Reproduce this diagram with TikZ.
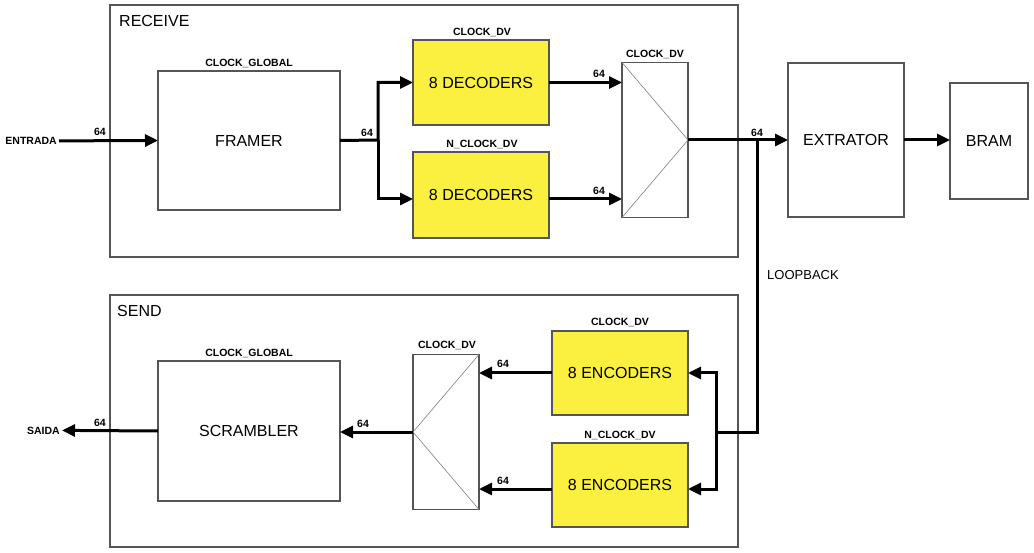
\documentclass[tikz,border=0pt]{standalone}
\usepackage{fontspec}
\setmainfont{Liberation Sans}
\usetikzlibrary{arrows.meta}
\definecolor{boxline}{RGB}{85,85,85}
\definecolor{blockyellow}{RGB}{251,240,64}
\tikzset{
  blk/.style={draw=boxline, line width=1.2pt, fill=white, inner sep=0pt, outer sep=0pt, font=\fontsize{16}{19}\selectfont},
  dec/.style={blk, fill=blockyellow},
  grp/.style={draw=boxline, line width=1.2pt, inner sep=0pt, outer sep=0pt},
  mux/.style={draw=boxline, line width=1.2pt, fill=white, inner sep=0pt, outer sep=0pt},
  diag/.style={draw=gray, line width=0.6pt},
  lbl/.style={font=\bfseries\fontsize{10.5}{12}\selectfont, inner sep=0pt},
  ttl/.style={font=\fontsize{16}{19}\selectfont, inner sep=0pt},
  wire/.style={line width=3pt},
  bus/.style={line width=3pt, -{Triangle[length=13pt,width=12pt]}},
}
\begin{document}
\begin{tikzpicture}[x=1pt,y=-1pt]
\useasboundingbox[fill=white] (0,0) rectangle (1034,553);
% groups
\node[grp, minimum width=628, minimum height=252] (receive) at (424,131) {};
\node[grp, minimum width=628, minimum height=252] (send) at (424,421) {};
\node[ttl, anchor=base west] (tr) at (119,27) {RECEIVE};
\node[ttl, anchor=base west] (ts) at (117,317) {SEND};
% receive blocks
\node[blk, minimum width=182, minimum height=139] (framer) at (249,140.5) {FRAMER};
\node[dec, minimum width=136, minimum height=85] (dec1) at (481,82.5) {8 DECODERS};
\node[dec, minimum width=136, minimum height=86] (dec2) at (481,195) {8 DECODERS};
\node[mux, minimum width=66, minimum height=155] (rxmux) at (655,140) {};
\draw[diag] (rxmux.north west) -- (rxmux.east) -- (rxmux.south west);
\node[blk, minimum width=116, minimum height=154] (extrator) at (846,140) {EXTRATOR};
\node[blk, minimum width=78, minimum height=116] (bram) at (989,141) {BRAM};
% send blocks
\node[blk, minimum width=182, minimum height=140] (scrambler) at (249,431) {SCRAMBLER};
\node[dec, minimum width=136, minimum height=84] (enc1) at (620,373) {8 ENCODERS};
\node[dec, minimum width=136, minimum height=84] (enc2) at (620,485) {8 ENCODERS};
\node[mux, minimum width=66, minimum height=155] (txmux) at (446,432) {};
\draw[diag] (txmux.north east) -- (txmux.west) -- (txmux.south east);
% io labels
\node[lbl, anchor=base east, inner sep=2pt] (entrada) at (59,144.5) {ENTRADA};
\node[lbl, anchor=base east, inner sep=2pt] (saida) at (62,434) {SAIDA};
% clock labels
\node[lbl, anchor=base] (c1) at (249,67) {CLOCK\_GLOBAL};
\node[lbl, anchor=base] (c2) at (482,36) {CLOCK\_DV};
\node[lbl, anchor=base] (c3) at (482,148) {N\_CLOCK\_DV};
\node[lbl, anchor=base] (c4) at (655,58) {CLOCK\_DV};
\node[lbl, anchor=base] (c5) at (249,357) {CLOCK\_GLOBAL};
\node[lbl, anchor=base] (c6) at (447,349) {CLOCK\_DV};
\node[lbl, anchor=base] (c7) at (620,326) {CLOCK\_DV};
\node[lbl, anchor=base] (c8) at (620,438) {N\_CLOCK\_DV};
% width labels
\node[lbl, anchor=base] (w1) at (100,136) {64};
\node[lbl, anchor=base] (w2) at (367,137) {64};
\node[lbl, anchor=base] (w3) at (599,78) {64};
\node[lbl, anchor=base] (w4) at (599,195) {64};
\node[lbl, anchor=base] (w5) at (757,137) {64};
\node[lbl, anchor=base] (w6) at (100,426) {64};
\node[lbl, anchor=base] (w7) at (363,427) {64};
\node[lbl, anchor=base] (w8) at (503,368) {64};
\node[lbl, anchor=base] (w9) at (503,484) {64};
\node[ttl, font=\fontsize{13}{15}\selectfont, anchor=base west] (loop) at (767,280) {LOOPBACK};
% coordinates
\coordinate (split1) at (378,140);
\coordinate (lb) at (757,140);
\coordinate (lb2) at (757,432);
\coordinate (split2) at (716,432);
% receive connectors
\draw[bus] (entrada.east) -- (framer.west);
\draw[bus] (framer.east) -- (split1) |- (dec1.west);
\draw[bus] (split1) |- ([yshift=-4pt]dec2.west);
\draw[bus] (dec1.east) -- (dec1.east -| rxmux.west);
\draw[bus] ([yshift=-4pt]dec2.east) -- ([yshift=-4pt]dec2.east -| rxmux.west);
\draw[bus] (rxmux.east) -- (extrator.west);
\draw[bus] (extrator.east) -- (extrator.east -| bram.west);
% loopback
\draw[wire] (lb) -- (lb2) -- (split2);
\draw[bus] (split2) |- (enc1.east);
\draw[bus] (split2) |- ([yshift=-4pt]enc2.east);
% send connectors
\draw[bus] (enc1.west) -- (enc1.west -| txmux.east);
\draw[bus] ([yshift=-4pt]enc2.west) -- ([yshift=-4pt]enc2.west -| txmux.east);
\draw[bus] (txmux.west) -- (txmux.west -| scrambler.east);
\draw[bus] (scrambler.west) -- (saida.east);
\end{tikzpicture}
\end{document}
